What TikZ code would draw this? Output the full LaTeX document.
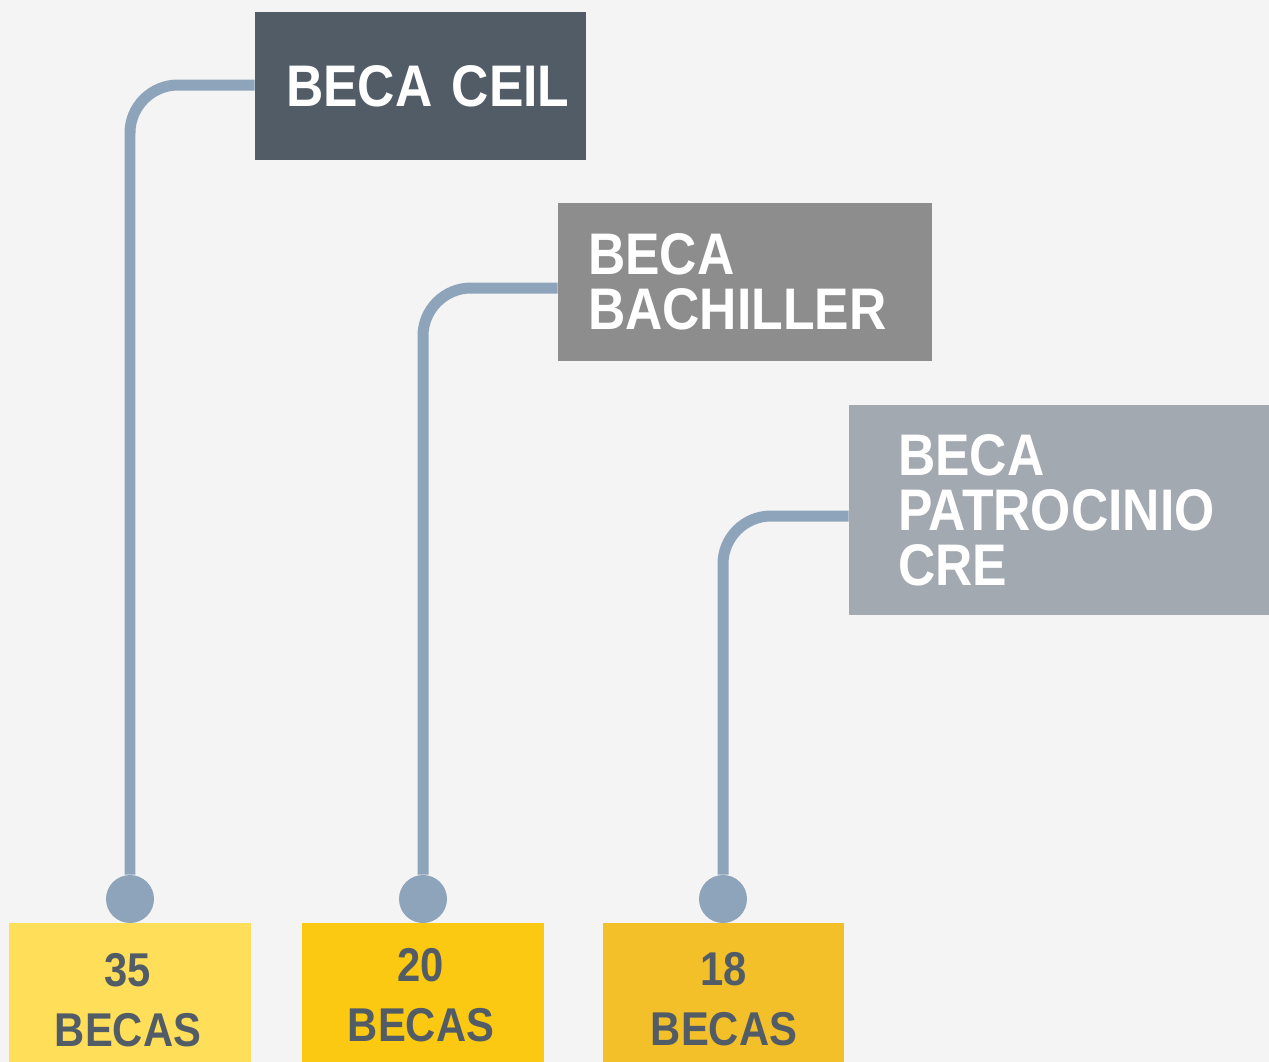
\documentclass[tikz,border=0pt]{standalone}
\usepackage{fontspec}
\usepackage{tikz}
\usetikzlibrary{positioning}
\newfontfamily\boxfont[FakeStretch=0.88]{Liberation Sans}
\definecolor{bgcol}{HTML}{F4F4F4}
\definecolor{slate}{HTML}{525C67}
\definecolor{midgray}{HTML}{8D8D8D}
\definecolor{lightgray}{HTML}{A3A9B1}
\definecolor{linkcol}{HTML}{8EA4BB}
\definecolor{yelA}{HTML}{FFDE59}
\definecolor{yelB}{HTML}{FBC812}
\definecolor{yelC}{HTML}{F3C02A}

\begin{document}
\begin{tikzpicture}[x=0.02cm, y=-0.02cm,
    namebox/.style={rectangle, fill=#1, text=white, inner xsep=0cm, inner ysep=0cm, align=left,
        font=\boxfont\bfseries\fontsize{33.4}{31.3}\selectfont},
    valbox/.style={rectangle, fill=#1, minimum width=4.84cm, minimum height=2.78cm, inner sep=0pt},
    valtext/.style={text=slate, align=center, inner sep=0pt,
        font=\boxfont\bfseries\fontsize{27}{34.1}\selectfont},
    link/.style={draw=linkcol, line width=0.22cm, rounded corners=0.96cm},
    dot/.style={circle, fill=linkcol, minimum size=0.96cm, inner sep=0pt}]
        \fill[bgcol] (0,0) rectangle (1269,1062);
        \useasboundingbox (0,0) rectangle (1269,1062);
        % upper boxes
        \node[namebox=slate, minimum width=6.62cm, minimum height=2.96cm, text width=5.38cm] (Ceil) at (420.5,86) {BECA~CEIL};
        \node[namebox=midgray, minimum width=7.48cm, minimum height=3.16cm, text width=6.28cm] (Bachiller) at (745,282) {BECA\\BACHILLER};
        \node[namebox=lightgray, minimum width=8.4cm, minimum height=4.2cm, text width=6.44cm] (Patrocinio) at (1059,510) {BECA\\PATROCINIO\\CRE};
        % lower boxes
        \node[valbox=yelA] (BoxCeil) at (130,992.5) {};
        \node[valbox=yelB] (BoxBachiller) at (423,992.5) {};
        \node[valbox=yelC] (BoxPatrocinio) at (723.5,992.5) {};
        \node[valtext] (NumCeil) at (128,1000) {35\\BECAS};
        \node[valtext] (NumBachiller) at (421,995.5) {20\\BECAS};
        \node[valtext] (NumPatrocinio) at (724,999.5) {18\\BECAS};
        % dots and links
        \node[dot] (DotCeil) at (130,899) {};
        \node[dot] (DotBachiller) at (423,899) {};
        \node[dot] (DotPatrocinio) at (723,899) {};
        \draw[link] (DotCeil.north) |- ([yshift=0.02cm] Ceil.west);
        \draw[link] (DotBachiller.north) |- ([yshift=-0.12cm] Bachiller.west);
        \draw[link] (DotPatrocinio.north) |- ([yshift=-0.12cm] Patrocinio.west);
    \end{tikzpicture}
\end{document}
